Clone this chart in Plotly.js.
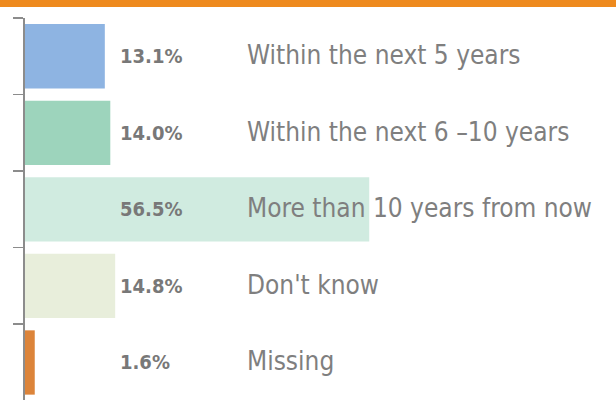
<!DOCTYPE html>
<html><head><meta charset="utf-8">
<script src="https://cdn.plot.ly/plotly-3.0.1.min.js"></script>
<style>html,body{margin:0;padding:0;background:#fff}#chart{width:616px;height:400px}</style>
</head><body><div id="chart"></div>
<script>
const categories = ["Within the next 5 years", "Within the next 6 –10 years", "More than 10 years from now", "Don't know", "Missing"];
const values = [13.1, 14.0, 56.5, 14.8, 1.6];
const barColors = ["#8EB4E2", "#9DD4BC", "#D0EBE0", "#E8EEDB", "#DC843A"];
const boundaryTicks = [-0.5, 0.5, 1.5, 2.5, 3.5];

const idx = categories.map((c, i) => i);
const font = "'DejaVu Sans Condensed', 'Liberation Sans Narrow', sans-serif";
const grey = "#7F7F7F";

const annotations = [];
categories.forEach((c, i) => {
  annotations.push({xref: 'paper', yref: 'y', x: 0.1575, y: i, xanchor: 'left', yanchor: 'middle',
    text: '<b>' + values[i].toFixed(1) + '%</b>', showarrow: false, yshift: 0,
    font: {family: font, size: 20, color: '#787878'}});
  annotations.push({xref: 'paper', yref: 'y', x: 0.372, y: i, xanchor: 'left', yanchor: 'middle',
    text: c, showarrow: false, yshift: 1,
    font: {family: font, size: 26, color: grey}});
});

Plotly.newPlot('chart', [{
  type: 'bar', orientation: 'h', x: values, y: idx,
  marker: {color: barColors, line: {width: 0}},
  hoverinfo: 'none'
}], {
  width: 616, height: 400,
  margin: {l: 25, r: 0, t: 18, b: 0},
  paper_bgcolor: '#fff', plot_bgcolor: '#fff',
  bargap: 0.16, showlegend: false,
  xaxis: {range: [0, 97], visible: false, fixedrange: true},
  yaxis: {range: [4.49, -0.5], tickmode: 'array', tickvals: boundaryTicks, showticklabels: false,
    ticks: 'outside', ticklen: 10, tickwidth: 1.5, tickcolor: '#8C8C8C',
    showline: true, linecolor: '#8C8C8C', linewidth: 2, showgrid: false, zeroline: false},
  annotations: annotations,
  shapes: [{type: 'rect', xref: 'paper', x0: -0.1, x1: 1.1, yref: 'paper', ysizemode: 'pixel', yanchor: 1,
    y0: 11, y1: 19, fillcolor: '#EE8A1E', line: {width: 0}}]
}, {staticPlot: true});
</script></body></html>
